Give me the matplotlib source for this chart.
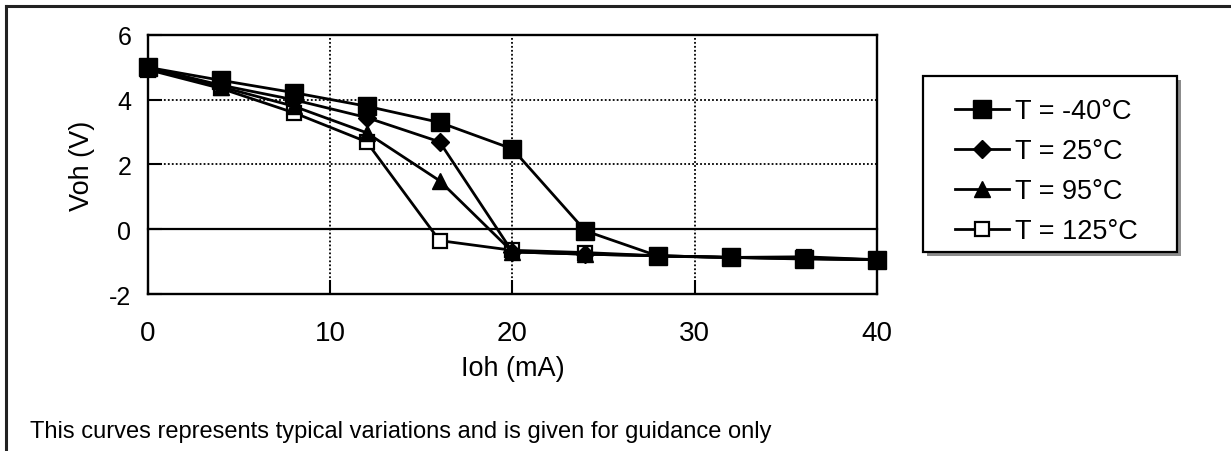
import matplotlib.pyplot as plt
from matplotlib.lines import Line2D
from matplotlib.patches import Rectangle

plt.rcParams['font.family'] = ['Liberation Sans', 'DejaVu Sans']

ioh = [0, 4, 8, 12, 16, 20, 24, 28, 32, 36, 40]
v_m40 = [5.0, 4.6, 4.22, 3.8, 3.3, 2.48, -0.05, -0.83, -0.87, -0.92, -0.94]
v_25 = [5.0, 4.45, 4.0, 3.45, 2.7, -0.7, -0.77, -0.82, -0.87, -0.9, -0.94]
v_95 = [4.97, 4.4, 3.8, 2.98, 1.5, -0.7, -0.77, -0.82, -0.87, -0.9, -0.94]
v_125 = [4.93, 4.35, 3.6, 2.7, -0.35, -0.65, -0.72, -0.82, -0.87, -0.85, -0.94]
labels = ['T = -40°C', 'T = 25°C', 'T = 95°C', 'T = 125°C']
note = 'This curves represents typical variations and is given for guidance only'

W, H = 1231, 452
fig = plt.figure(figsize=(W / 100, H / 100), dpi=100)
ax = fig.add_axes([0.1202, 0.3473, 0.5922, 0.5731])

# excel style dotted grid and solid zero line
for xv in [10, 20, 30]:
    ax.axvline(xv, color='black', lw=1.3, ls=(0, (1, 1.2)), zorder=1)
for yv in [2, 4]:
    ax.axhline(yv, color='black', lw=1.3, ls=(0, (1, 1.2)), zorder=1)
ax.axhline(0, color='black', lw=1.6, zorder=1)

lw = 2.0
ax.plot(ioh, v_125, color='black', lw=lw, marker='s', ms=10.5, mfc='white',
        mec='black', mew=1.6, label=labels[3], zorder=3)
ax.plot(ioh, v_95, color='black', lw=lw, marker='^', ms=11.5, label=labels[2], zorder=4)
ax.plot(ioh, v_25, color='black', lw=lw, marker='D', ms=9, label=labels[1], zorder=5)
ax.plot(ioh, v_m40, color='black', lw=lw, marker='s', ms=13, label=labels[0], zorder=6)

ax.set_xlim(0, 40)
ax.set_ylim(-2, 6)
ax.set_xticks([0, 10, 20, 30, 40])
ax.set_yticks([-2, 0, 2, 4, 6])
ax.set_yticklabels(['-2', '0', '2', '4', '6'])
ax.tick_params(direction='in', length=10, width=1.5)
ax.tick_params(axis='y', labelsize=18, pad=12)
ax.tick_params(axis='x', labelsize=20, pad=19)
for s in ax.spines.values():
    s.set_linewidth(1.7)
for p in ax.lines:
    p.set_clip_on(False)

ax.set_xlabel('Ioh (mA)', fontsize=19.5, labelpad=6)
ax.set_ylabel('Voh (V)', fontsize=19.5, labelpad=10)

# legend box with grey drop shadow
bx0, by0, bx1, by1 = 923, 77, 1177, 253
fig.add_artist(Rectangle(((bx0 + 4) / W, 1 - (by1 + 4) / H), (bx1 - bx0) / W,
                         (by1 - by0) / H, transform=fig.transFigure,
                         facecolor='#8c8c8c', edgecolor='none', zorder=1))
fig.add_artist(Rectangle((bx0 / W, 1 - by1 / H), (bx1 - bx0) / W, (by1 - by0) / H,
                         transform=fig.transFigure, facecolor='white',
                         edgecolor='black', lw=1.6, zorder=2))

h, l = ax.get_legend_handles_labels()
order = [3, 2, 1, 0]
leg = fig.legend([h[i] for i in order], [l[i] for i in order],
                 loc='upper left', bbox_to_anchor=(955 / W, 1 - 99 / H),
                 bbox_transform=fig.transFigure, fontsize=19.5, frameon=False,
                 handlelength=2.0, handletextpad=0.2, labelspacing=0.52,
                 borderpad=0, borderaxespad=0)
leg.set_zorder(10)

fig.text(30 / W, 1 - 438 / H, note, fontsize=17, va='baseline', ha='left')

# outer frame (top and left edges visible)
fig.add_artist(Line2D([6 / W, 1], [1 - 7 / H, 1 - 7 / H], color='#222222',
                      lw=2.2, transform=fig.transFigure))
fig.add_artist(Line2D([6 / W, 6 / W], [0, 1 - 7 / H], color='#222222',
                      lw=2.2, transform=fig.transFigure))

fig.savefig('out.png', dpi=100)
